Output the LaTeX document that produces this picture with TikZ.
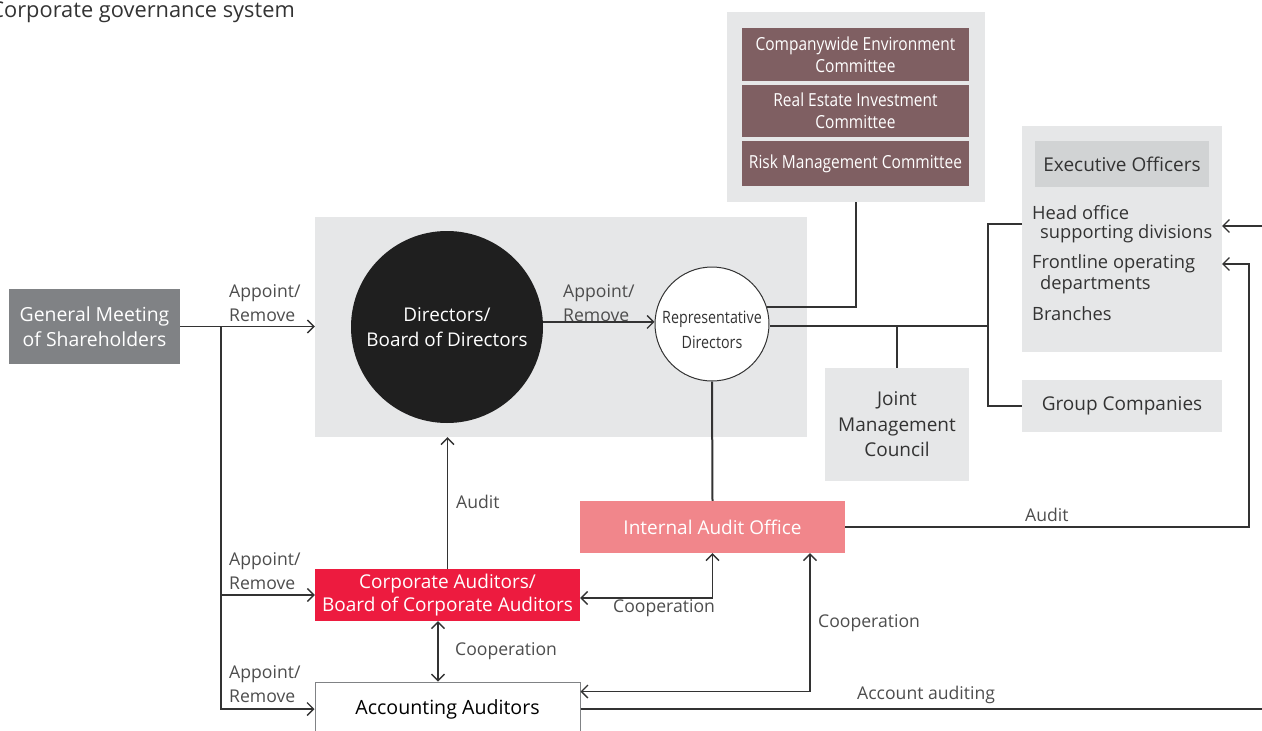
\documentclass[tikz,border=0pt]{standalone}
\usepackage{fontspec}
\setmainfont{Open Sans}
\usetikzlibrary{arrows.meta}
\definecolor{lgray}{HTML}{E6E7E8}
\definecolor{mgray}{HTML}{D1D3D4}
\definecolor{gmgray}{HTML}{808285}
\definecolor{brown}{HTML}{7F5F62}
\definecolor{pink}{HTML}{F1868B}
\definecolor{cred}{HTML}{ED1B3F}
\definecolor{ink}{HTML}{333333}
\definecolor{lab}{HTML}{4D4D4D}
\tikzset{
  area/.style={fill=lgray, draw=none, inner sep=0pt},
  fbox/.style={draw=none, inner sep=0pt, align=center},
  txt/.style={inner sep=0pt, align=left, text=ink, font=\fontsize{18.3}{21}\selectfont},
  lbl/.style={inner sep=0pt, align=left, text=lab, font=\fontsize{17.6}{24}\selectfont},
  ln/.style={draw=ink, line width=1.3pt},
  tk/.style={draw=ink, line width=2pt},
  arr/.style={ln, -{Straight Barb[length=6.5pt,width=13pt,line width=1.3pt]}},
  arrb/.style={ln, {Straight Barb[length=6.5pt,width=13pt,line width=1.3pt]}-{Straight Barb[length=6.5pt,width=13pt,line width=1.3pt]}},
}
\newcommand{\cond}[1]{\scalebox{0.86}[1]{#1}}
\begin{document}
\begin{tikzpicture}[x=1pt,y=-1pt]
\useasboundingbox (0,0) rectangle (1262,731);
% title
\node[txt, anchor=east, font=\fontsize{21.8}{24}\selectfont] (title) at (295,12.5) {Corporate governance system};
% areas
\node[area, minimum width=492pt, minimum height=220pt] (board) at (561,327) {};
\node[area, minimum width=258pt, minimum height=190pt] (comm) at (856,107) {};
\node[area, minimum width=200pt, minimum height=226pt] (exec) at (1122,239) {};
% committees
\node[fbox, fill=brown, text=white, minimum width=227pt, minimum height=53pt, font=\fontsize{18}{22}\selectfont] (c1) at (855.5,54.5) {\cond{Companywide Environment}\\\cond{Committee}};
\node[fbox, fill=brown, text=white, minimum width=227pt, minimum height=52pt, font=\fontsize{18}{22}\selectfont] (c2) at (855.5,111) {\cond{Real Estate Investment}\\\cond{Committee}};
\node[fbox, fill=brown, text=white, minimum width=227pt, minimum height=45pt, font=\fontsize{18}{22}\selectfont] (c3) at (855.5,163.5) {\cond{Risk Management Committee}};
% executive
\node[fbox, fill=mgray, text=ink, minimum width=174pt, minimum height=46pt, font=\fontsize{19}{22}\selectfont] (eo) at (1122,164) {Executive Officers};
\node[txt, anchor=west] (ho1) at (1032,213) {Head office};
\node[txt, anchor=west] (ho2) at (1040,234) {supporting divisions};
\node[txt, anchor=west] (fo1) at (1032,264) {Frontline operating};
\node[txt, anchor=west] (fo2) at (1040,285) {departments};
\node[txt, anchor=west] (br) at (1032,314) {Branches};
\node[fbox, fill=lgray, text=ink, minimum width=200pt, minimum height=52pt, font=\fontsize{19}{22}\selectfont] (gc) at (1122,406) {Group Companies};
\node[fbox, fill=lgray, text=ink, minimum width=144pt, minimum height=113pt, font=\fontsize{19}{25.5}\selectfont] (jmc) at (897,424.5) {Joint\\Management\\Council};
% GM
\node[fbox, fill=gmgray, text=white, minimum width=171pt, minimum height=75pt, font=\fontsize{19.4}{25}\selectfont] (gm) at (94.5,326.5) {General Meeting\\of Shareholders};
% circles
\node[circle, fill=black!88, draw=none, minimum size=192pt, inner sep=0pt, align=center, text=white, font=\fontsize{18.9}{25}\selectfont] (dir) at (447,327) {Directors/\\Board of Directors};
\node[circle, fill=white, draw=ink, line width=1pt, minimum size=114pt, inner sep=0pt] (rep) at (712,324) {};
\node[inner sep=0pt, align=center, text=ink, font=\fontsize{17}{25}\selectfont] (reptxt) at (712,330) {\scalebox{0.84}[1]{Representative}\\\scalebox{0.84}[1]{Directors}};
% audit boxes
\node[fbox, fill=pink, text=white, minimum width=265pt, minimum height=52pt, font=\fontsize{19}{22}\selectfont] (iao) at (712.5,527) {Internal Audit Office};
\node[fbox, fill=cred, text=white, minimum width=265pt, minimum height=52pt, font=\fontsize{19}{22.5}\selectfont] (ca) at (447.5,595) {Corporate Auditors/\\Board of Corporate Auditors};
\node[fbox, fill=white, draw=gmgray, line width=1pt, text=black, minimum width=265pt, minimum height=54pt, font=\fontsize{19.6}{22}\selectfont] (aa) at (447.5,709) {Accounting Auditors};
% coordinates
\coordinate (j1) at (221,326.5);
\coordinate (jx) at (988,326);
\coordinate (eh) at (1022,224);
\coordinate (ft) at (1222,264);
\coordinate (fh) at (1222,226);
\coordinate (re) at (1262,226);
\coordinate (rx) at (1262,709);
% connectors
\draw[arr] (gm.east) -- (gm.east -| board.west);
\draw[arr] (j1) |- (ca.west);
\draw[arr] (j1) |- (aa.west);
\draw[arr] (dir.3) -- (dir.3 -| rep.west);
\draw[tk] (rep.17) -| (comm.south);
\draw[tk] (rep.east |- jx) -- (jx);
\draw[tk] (jmc.north) -- (jmc.north |- jx);
\draw[tk] (eh) -| (jx) |- (gc.west);
\draw[tk] (rep.south) -- (iao.north);
\draw[arr] (ca.north) -- (ca.north |- board.south);
\draw[arrb] ([yshift=-3pt]ca.east) -| (iao.south);
\draw[arrb] ([xshift=-9.5pt]ca.south) -- ([xshift=-9.5pt]ca.south |- aa.north);
\draw[arrb] ([yshift=-10pt]aa.north east) -| ([xshift=97.5pt]iao.south);
\draw[ln] (aa.east) -- (rx);
\draw[arr] (iao.east) -| ([xshift=27pt]ft) -- (ft);
\draw[arr] (re) -- (fh);
% labels
\node[lbl, anchor=west] (l1) at (229,303) {Appoint/\\Remove};
\node[lbl, anchor=west] (l2) at (563,303) {Appoint/\\Remove};
\node[lbl, anchor=west] (l3) at (229,571) {Appoint/\\Remove};
\node[lbl, anchor=west] (l4) at (229,684) {Appoint/\\Remove};
\node[lbl, anchor=west] (l5) at (456,502) {Audit};
\node[lbl, anchor=west] (l6) at (613,608) {Cooperation};
\node[lbl, anchor=west] (l7) at (455,651) {Cooperation};
\node[lbl, anchor=west] (l8) at (818,623) {Cooperation};
\node[lbl, anchor=west] (l9) at (857,695) {Account auditing};
\node[lbl, anchor=west] (l10) at (1025,515) {Audit};
\end{tikzpicture}
\end{document}
